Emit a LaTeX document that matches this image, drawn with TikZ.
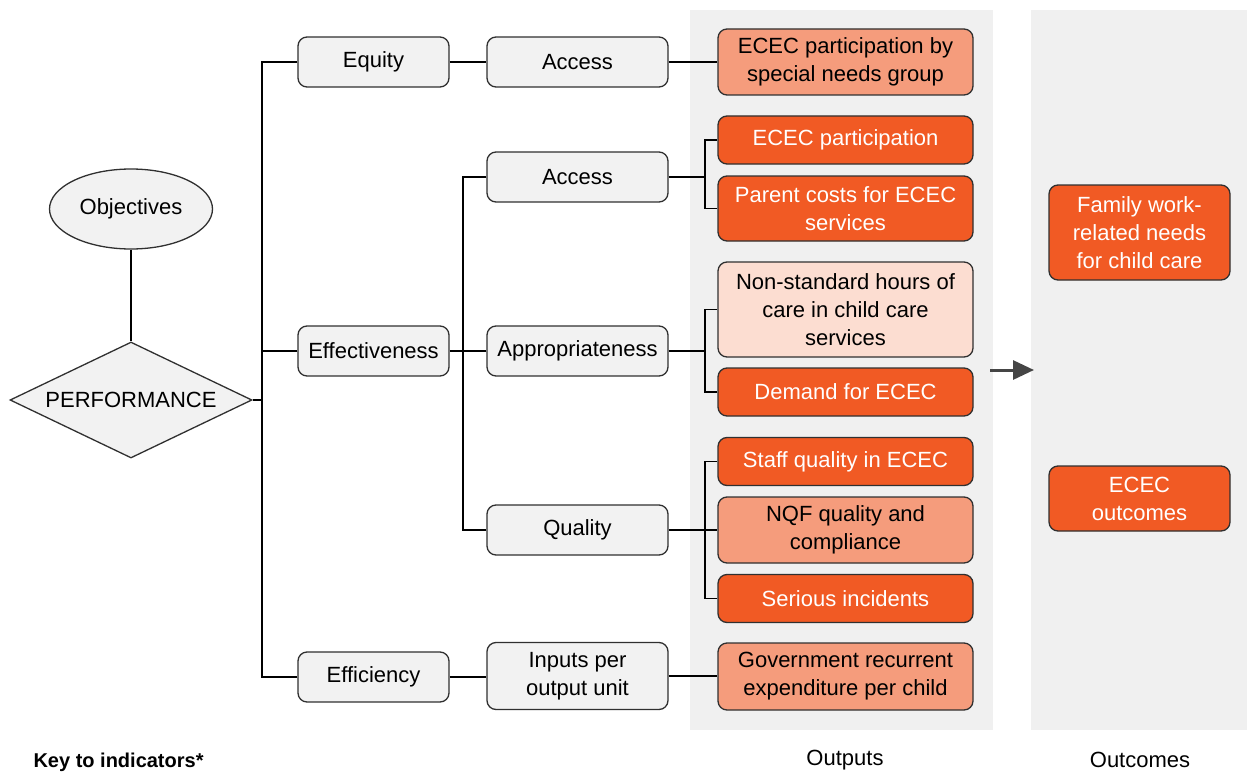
\documentclass[tikz,border=0pt]{standalone}
\usepackage{fontspec}
\setmainfont{Liberation Sans}
\usetikzlibrary{shapes.geometric, arrows.meta, positioning}
\definecolor{panelgray}{HTML}{F0F0F0}
\definecolor{boxgray}{HTML}{F2F2F2}
\definecolor{hotorange}{HTML}{F15A24}
\definecolor{salmon}{HTML}{F59C7C}
\definecolor{peach}{HTML}{FCDDD1}
\definecolor{edgegray}{HTML}{303030}
\tikzstyle{block} = [draw=edgegray, line width=1.3pt, rectangle,
    rounded corners=9pt, align=center, inner sep=0pt,
    font=\fontsize{22}{28}\selectfont]
\tikzstyle{tier} = [block, fill=boxgray, minimum width=151pt, minimum height=50pt]
\tikzstyle{aspect} = [block, fill=boxgray, minimum width=181pt, minimum height=50pt]
\tikzstyle{measure} = [block, minimum width=255pt, minimum height=48pt]
\tikzstyle{ready} = [measure, fill=hotorange, text=white]
\tikzstyle{partial} = [measure, fill=salmon]
\tikzstyle{future} = [measure, fill=peach]
\tikzstyle{outcome} = [block, fill=hotorange, text=white, minimum width=181pt]
\tikzstyle{link} = [line width=1.8pt, black]
\tikzstyle{caption} = [font=\fontsize{22}{26}\selectfont]

\begin{document}
\begin{tikzpicture}[x=1pt, y=-1pt, >={Triangle[length=21pt, width=19pt]}]
    \useasboundingbox (0,0) rectangle (1247,773);
    % shaded columns
    \fill [panelgray] (690,10) rectangle (993,730);
    \fill [panelgray] (1031,10) rectangle (1247,730);

    % objectives and performance
    \node [ellipse, draw=edgegray, line width=1.3pt, fill=boxgray,
        minimum width=163pt, minimum height=80pt,
        font=\fontsize{22}{28}\selectfont] (objectives) at (131,209) {Objectives};
    \node [diamond, draw=edgegray, line width=1.3pt, fill=boxgray,
        minimum width=242pt, minimum height=116pt, inner sep=0pt,
        label={[font=\fontsize{22}{28}\selectfont]center:PERFORMANCE}] (perf) at (131,400) {};
    \draw [link] (objectives) -- (perf);

    % first level
    \node [tier] (equity) at (373.5,62) {Equity};
    \node [tier] (effect) at (373.5,351) {Effectiveness};
    \node [tier] (effic) at (373.5,677) {Efficiency};
    \coordinate (trunk) at (262,400);
    \draw [link] (perf.east) -- (trunk);
    \draw [link] (equity.west) -| (trunk);
    \draw [link] (effic.west) -| (trunk);
    \draw [link] (effect.west) -- (effect.west -| trunk);

    % second level
    \node [aspect] (eqaccess) at (577.5,62) {Access};
    \node [aspect] (access) at (577.5,177) {Access};
    \node [aspect] (approp) at (577.5,351) {Appropriateness};
    \node [aspect] (quality) at (577.5,530) {Quality};
    \node [aspect, minimum height=67pt] (inputs) at (577.5,676) {Inputs per\\output unit};
    \coordinate (effsplit) at (463,351);
    \draw [link] (equity) -- (eqaccess);
    \draw [link] (effic.east) -- (effic.east -| inputs.west);
    \draw [link] (effect.east) -- (effsplit);
    \draw [link] (access.west) -| (effsplit);
    \draw [link] (quality.west) -| (effsplit);
    \draw [link] (approp.west) -- (effsplit);

    % indicators
    \node [partial, minimum height=66pt] (special) at (845.5,62) {ECEC participation by\\special needs group};
    \node [ready] (particip) at (845.5,140) {ECEC participation};
    \node [ready, minimum height=65pt] (costs) at (845.5,208.5) {Parent costs for ECEC\\services};
    \node [future, minimum height=95pt] (hours) at (845.5,309.5) {Non-standard hours of\\care in child care\\services};
    \node [ready] (demand) at (845.5,392) {Demand for ECEC};
    \node [ready] (staff) at (845.5,461.5) {Staff quality in ECEC};
    \node [partial, minimum height=66pt] (nqf) at (845.5,530) {NQF quality and\\compliance};
    \node [ready] (serious) at (845.5,598.5) {Serious incidents};
    \node [partial, minimum height=67pt] (govexp) at (845.5,676.5) {Government recurrent\\expenditure per child};

    \coordinate (accsplit) at (705,177);
    \coordinate (appsplit) at (705,351);
    \coordinate (qualsplit) at (705,530);
    \draw [link] (eqaccess.east) -- (eqaccess.east -| special.west);
    \draw [link] (inputs.east) -- (inputs.east -| govexp.west);
    \draw [link] (access.east) -- (accsplit);
    \draw [link] (particip.west) -| (accsplit);
    \draw [link] (costs.west) -| (accsplit);
    \draw [link] (approp.east) -- (appsplit);
    \draw [link] (hours.west) -| (appsplit);
    \draw [link] (demand.west) -| (appsplit);
    \draw [link] (quality.east) -- (nqf.west);
    \draw [link] (staff.west) -| (qualsplit);
    \draw [link] (serious.west) -| (qualsplit);

    % outcomes
    \node [outcome, minimum height=95pt] (family) at (1139.5,232.5) {Family work-\\related needs\\for child care};
    \node [outcome, minimum height=65pt] (ecout) at (1139.5,498.5) {ECEC\\outcomes};
    \coordinate (arrowtail) at (990,370);
    \coordinate (arrowhead) at (1034,370);
    \draw [->, line width=3pt, draw=edgegray!90!white] (arrowtail) -- (arrowhead);

    % captions
    \node [caption] (outputs) at (845,760) {Outputs};
    \node [caption] (outcomes) at (1140,760) {Outcomes};
    \node [caption, font=\bfseries\fontsize{20}{26}\selectfont, anchor=base west] (key) at (30,767) {Key to indicators*};
\end{tikzpicture}
\end{document}
